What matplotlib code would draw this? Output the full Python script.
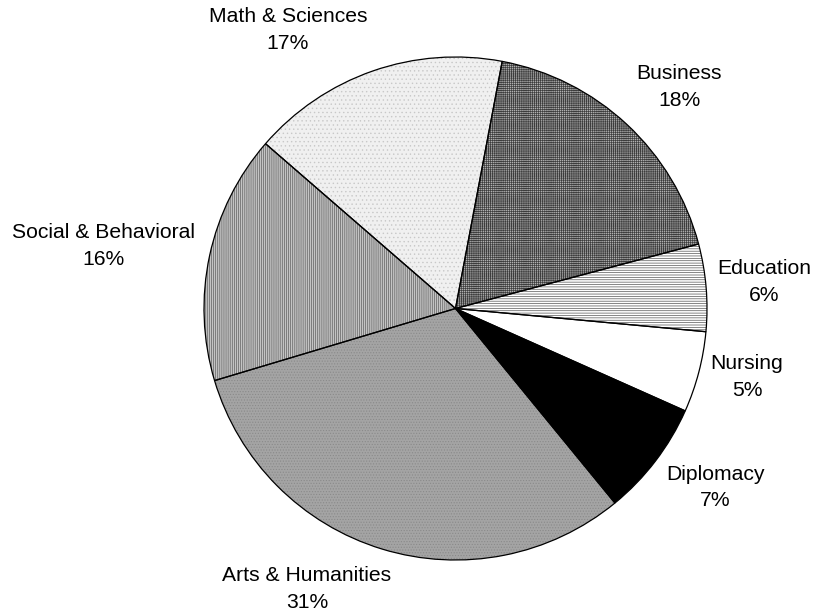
import matplotlib
matplotlib.use("Agg")
import matplotlib.pyplot as plt

plt.rcParams['font.family'] = ['Liberation Sans', 'DejaVu Sans']

categories = ["Business", "Education", "Nursing", "Diplomacy",
              "Arts & Humanities", "Social & Behavioral", "Math & Sciences"]
values = [17.9, 5.6, 5.2, 7.4, 31.3, 16.0, 16.6]

# styles
faces = ['#b0b0b0', 'white', 'white', 'black', '#a4a4a4', '#c4c4c4', '#f0f0f0']
hatches = ['++++++++', '-------', '', '', '......', '||||||||', '....']
hatch_cols = ['#3c3c3c', '#555555', 'white', 'black', '#8a8a8a', '#606060', '#c8c8c8']
label_pos = [(679, 87), (764, 282), (747, 377), (715, 487.5),
             (307, 589), (103, 246), (288, 30)]

W, H = 814, 615
fig = plt.figure(figsize=(W / 100, H / 100), dpi=100)
ax = fig.add_axes([0, 0, 1, 1])

center = (455.5, H - 308.5)
radius = 251.5
plt.rcParams['hatch.linewidth'] = 0.5

# hatched fill layer
wedges, _ = ax.pie(values, startangle=79.3, counterclock=False,
                   center=center, radius=radius, frame=True)
for w, fc, h, hc in zip(wedges, faces, hatches, hatch_cols):
    w.set_facecolor(fc)
    w.set_hatch(h)
    w.set_edgecolor(hc)
    w.set_linewidth(0)

# outline layer
ax.pie(values, startangle=79.3, counterclock=False,
       center=center, radius=radius, frame=True,
       wedgeprops=dict(facecolor='none', edgecolor='black', linewidth=0.9))
ax.set_xlim(0, W)
ax.set_ylim(0, H)
ax.set_aspect('equal')
ax.axis('off')

total = sum(values)
for name, v, (x, y) in zip(categories, values, label_pos):
    ax.text(x, H - y, f"{name}\n{round(v / total * 100):.0f}%", ha='center', va='center',
            fontsize=15.2, linespacing=1.47, color='black')

fig.savefig("out.png", dpi=100)
